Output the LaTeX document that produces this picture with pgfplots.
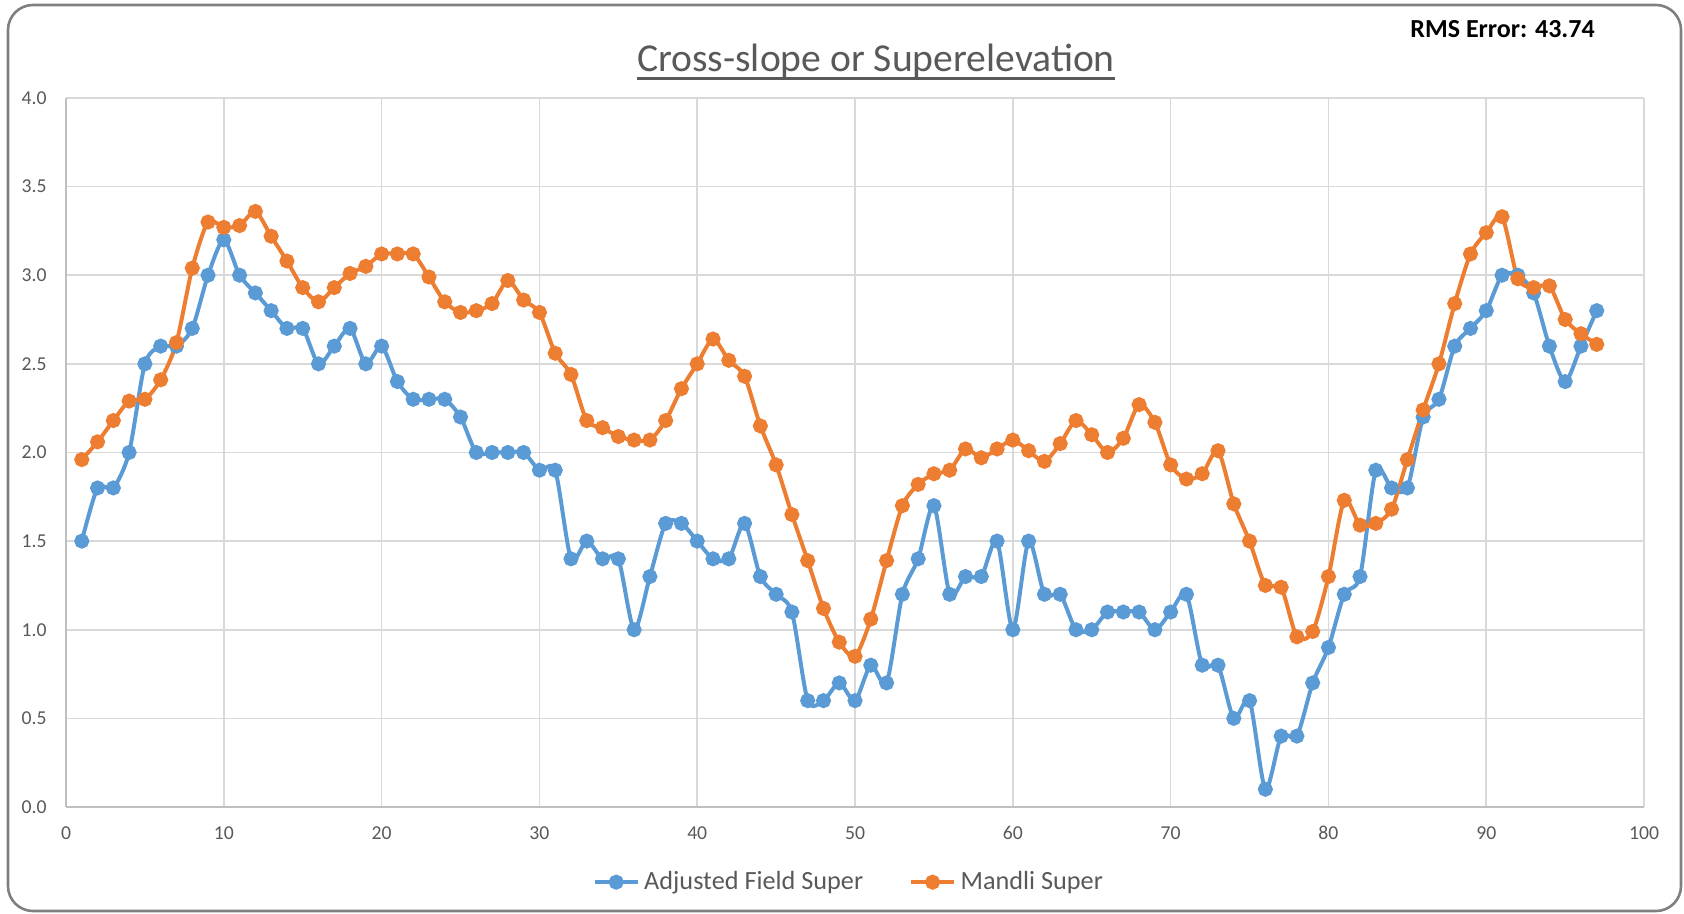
\documentclass[border=0pt]{standalone}
\usepackage{fontspec}
\setmainfont{Carlito}
\usepackage{pgfplots}
\usepackage{pgfplotstable}
\pgfplotsset{compat=1.18}

\definecolor{fieldblue}{HTML}{5B9BD5}
\definecolor{mandliorange}{HTML}{ED7D31}
\definecolor{gridgray}{HTML}{D9D9D9}
\definecolor{axisgray}{HTML}{BFBFBF}
\definecolor{textgray}{HTML}{595959}
\definecolor{framegray}{HTML}{7F7F7F}

% x = station, field = adjusted field super, mandli = Mandli super
\pgfplotstableread{
x field mandli
1 1.5 1.96
2 1.8 2.06
3 1.8 2.18
4 2.0 2.29
5 2.5 2.30
6 2.6 2.41
7 2.6 2.62
8 2.7 3.04
9 3.0 3.30
10 3.2 3.27
11 3.0 3.28
12 2.9 3.36
13 2.8 3.22
14 2.7 3.08
15 2.7 2.93
16 2.5 2.85
17 2.6 2.93
18 2.7 3.01
19 2.5 3.05
20 2.6 3.12
21 2.4 3.12
22 2.3 3.12
23 2.3 2.99
24 2.3 2.85
25 2.2 2.79
26 2.0 2.80
27 2.0 2.84
28 2.0 2.97
29 2.0 2.86
30 1.9 2.79
31 1.9 2.56
32 1.4 2.44
33 1.5 2.18
34 1.4 2.14
35 1.4 2.09
36 1.0 2.07
37 1.3 2.07
38 1.6 2.18
39 1.6 2.36
40 1.5 2.50
41 1.4 2.64
42 1.4 2.52
43 1.6 2.43
44 1.3 2.15
45 1.2 1.93
46 1.1 1.65
47 0.6 1.39
48 0.6 1.12
49 0.7 0.93
50 0.6 0.85
51 0.8 1.06
52 0.7 1.39
53 1.2 1.70
54 1.4 1.82
55 1.7 1.88
56 1.2 1.90
57 1.3 2.02
58 1.3 1.97
59 1.5 2.02
60 1.0 2.07
61 1.5 2.01
62 1.2 1.95
63 1.2 2.05
64 1.0 2.18
65 1.0 2.10
66 1.1 2.00
67 1.1 2.08
68 1.1 2.27
69 1.0 2.17
70 1.1 1.93
71 1.2 1.85
72 0.8 1.88
73 0.8 2.01
74 0.5 1.71
75 0.6 1.50
76 0.1 1.25
77 0.4 1.24
78 0.4 0.96
79 0.7 0.99
80 0.9 1.30
81 1.2 1.73
82 1.3 1.59
83 1.9 1.60
84 1.8 1.68
85 1.8 1.96
86 2.2 2.24
87 2.3 2.50
88 2.6 2.84
89 2.7 3.12
90 2.8 3.24
91 3.0 3.33
92 3.0 2.98
93 2.9 2.93
94 2.6 2.94
95 2.4 2.75
96 2.6 2.67
97 2.8 2.61
}\supertable

\begin{document}
\begin{tikzpicture}[x=0.015cm,y=0.015cm]
  \useasboundingbox (0,0) rectangle (1684,913);
  \draw[framegray, line width=1.1pt, rounded corners=0.375cm] (8,908) rectangle (1681,2);

  \begin{axis}[
    at={(0.99cm,1.59cm)}, anchor=south west,
    scale only axis,
    width=23.67cm, height=10.635cm,
    xmin=0, xmax=100, ymin=0, ymax=4,
    xtick distance=10,
    ytick={0,0.5,...,4},
    grid=major,
    grid style={gridgray, line width=0.7pt},
    axis x line*=bottom, axis y line*=left,
    axis line style={axisgray, line width=1pt, -},
    major tick length=0pt,
    tick label style={textgray, font=\fontsize{8.4}{10}\selectfont, inner sep=0pt},
    yticklabel style={anchor=east, xshift=-2.85mm,
      /pgf/number format/.cd, fixed, fixed zerofill, precision=1},
    xticklabel style={anchor=north, yshift=-2.85mm},
    /pgf/number format/assume math mode=true,
    clip=false,
    legend style={draw=none, fill=none, at={(0.497,-0.106)}, anchor=center,
      font=\fontsize{11.2}{13}\selectfont\color{textgray},
      /tikz/every even column/.append style={column sep=6.2mm},
      inner sep=0pt},
    legend columns=2,
    legend cell align=left,
    legend image code/.code={
      \draw[mark repeat=2, mark phase=2, #1]
        plot coordinates {(0cm,0cm) (0.32cm,0cm) (0.64cm,0cm)};
    },
  ]
    \addplot[fieldblue, line width=1.7pt, smooth, tension=0.45,
      mark=*, mark size=2.35pt, mark options={solid}]
      table[x=x, y=field] {\supertable};
    \addplot[mandliorange, line width=1.7pt, smooth, tension=0.45,
      mark=*, mark size=2.35pt, mark options={solid}]
      table[x=x, y=mandli] {\supertable};
    \legend{Adjusted Field Super, Mandli Super}
  \end{axis}

  \node[anchor=base, inner sep=0pt, textgray, font=\fontsize{16.9}{20}\selectfont]
    (title) at (876,841) {Cross-slope or Superelevation};
  \draw[textgray, line width=0.45mm]
    ([yshift=-0.95mm]title.base west) -- ([yshift=-0.95mm]title.base east);
  \node[anchor=base west, inner sep=0pt, font=\fontsize{11.1}{13}\selectfont\bfseries]
    at (1410,875) {RMS Error: 43.74};
\end{tikzpicture}
\end{document}
